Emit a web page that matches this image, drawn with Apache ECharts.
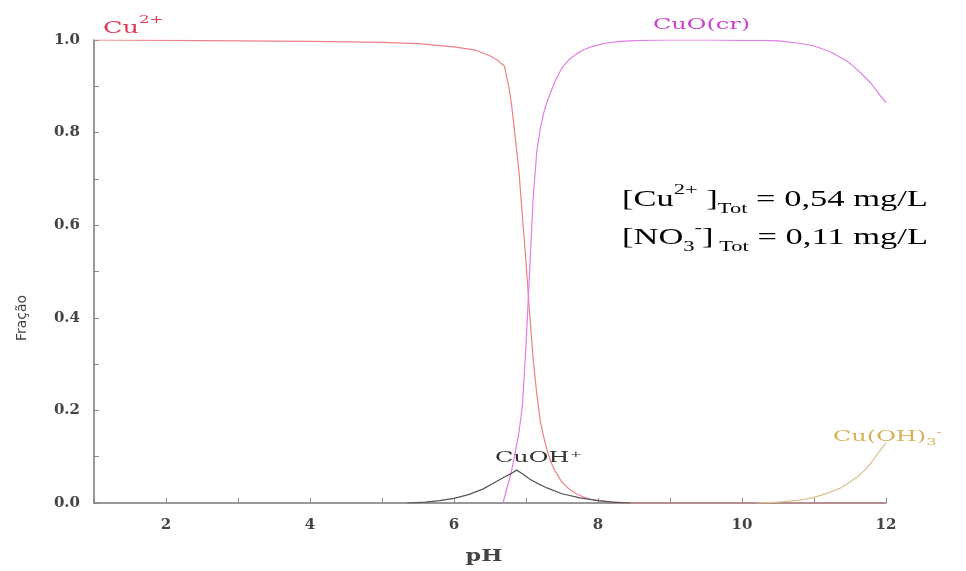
<!DOCTYPE html>
<html><head><meta charset="utf-8">
<script src="https://cdn.jsdelivr.net/npm/echarts@6/dist/echarts.min.js"></script>
<style>html,body{margin:0;padding:0;background:#fff}#c{width:966px;height:571px}</style>
</head><body><div id="c"></div>
<script>
// ---- data ----
const cu2_pH  = [1,2,3,4,5,5.5,6,6.3,6.5,6.6,6.65,6.7,6.72,6.76,6.8,6.85,6.9,6.95,7.0,7.05,7.1,7.15,7.2,7.25,7.3,7.35,7.4,7.5,7.6,7.7,7.8,7.9,8.0,8.15,8.3,8.6,9,10,11,12];
const cu2_val = [1.0,0.999,0.998,0.997,0.995,0.992,0.985,0.978,0.966,0.957,0.95,0.944,0.94,0.9,0.86,0.79,0.72,0.62,0.52,0.41,0.31,0.235,0.175,0.14,0.11,0.087,0.07,0.045,0.03,0.02,0.013,0.008,0.005,0.003,0.001,0,0,0,0,0];
const cuo_pH  = [6.68,6.75,6.8,6.85,6.9,6.95,7.0,7.05,7.1,7.15,7.2,7.25,7.3,7.4,7.5,7.6,7.7,7.8,7.9,8.1,8.3,8.6,9,9.5,10,10.3,10.5,10.8,11,11.15,11.26,11.35,11.45,11.55,11.64,11.72,11.8,11.92,12];
const cuo_val = [0,0.04,0.07,0.11,0.15,0.21,0.34,0.5,0.66,0.76,0.81,0.845,0.87,0.91,0.94,0.958,0.97,0.979,0.985,0.993,0.997,0.999,1.0,1.0,0.999,0.999,0.998,0.993,0.987,0.979,0.972,0.964,0.955,0.943,0.93,0.918,0.905,0.88,0.865];
const cuoh_pH  = [5.35,5.6,5.8,6.0,6.2,6.4,6.54,6.7,6.8,6.87,6.95,7.05,7.15,7.3,7.5,7.75,8.0,8.2,8.45];
const cuoh_val = [0,0.002,0.005,0.01,0.018,0.03,0.042,0.056,0.064,0.071,0.063,0.052,0.043,0.032,0.02,0.011,0.005,0.002,0];
const cuoh3_pH  = [10.2,10.5,10.8,11.0,11.2,11.35,11.45,11.6,11.7,11.8,11.9,12];
const cuoh3_val = [0,0.002,0.006,0.012,0.022,0.031,0.04,0.056,0.07,0.088,0.11,0.13];
const xTicks = [2,4,6,8,10,12];
const yTicks = [0.0,0.2,0.4,0.6,0.8,1.0];

const pairs = (xs, ys) => xs.map((x, i) => [x, ys[i]]);
const serif = "'DejaVu Serif', 'Liberation Serif', serif";
const times = "'Liberation Serif', 'Times New Roman', serif";
const SX = 1.6;

const chart = echarts.init(document.getElementById('c'), null, {renderer: 'canvas'});
const lineS = (name, xs, ys, color) => ({
  name, type: 'line', data: pairs(xs, ys), showSymbol: false, symbol: 'none',
  smooth: false, lineStyle: {color, width: 1.2}, z: 3, animation: false
});

chart.setOption({
  animation: false,
  grid: {left: 94, right: 80, top: 40, bottom: 68},
  xAxis: {
    type: 'value', min: 1, max: 12, interval: 1,
    axisLine: {onZero: false, lineStyle: {color: '#777', width: 1.5}},
    axisTick: {inside: true, length: 5, lineStyle: {color: '#888'}},
    splitLine: {show: false},
    axisLabel: {
      margin: 15, color: '#444', fontFamily: serif, fontSize: 15, fontWeight: 'bold',
      formatter: v => xTicks.indexOf(Math.round(v)) >= 0 && Math.abs(v - Math.round(v)) < 1e-6 ? String(Math.round(v)) : ''
    }
  },
  yAxis: {
    type: 'value', min: 0, max: 1, interval: 0.1,
    axisLine: {show: true, lineStyle: {color: '#777', width: 1.5}},
    axisTick: {show: true, inside: true, length: 5, lineStyle: {color: '#888'}},
    splitLine: {show: false},
    axisLabel: {
      margin: 14, color: '#444', fontFamily: serif, fontSize: 15, fontWeight: 'bold',
      formatter: v => {
        const r = Math.round(v * 10);
        const t = (r / 10).toFixed(1);
        return yTicks.some(y => y.toFixed(1) === t) ? t : '';
      }
    }
  },
  series: [
    lineS('Cu2+', cu2_pH, cu2_val, '#ee8088'),
    lineS('CuO(cr)', cuo_pH, cuo_val, '#e07ee6'),
    lineS('CuOH+', cuoh_pH, cuoh_val, '#555555'),
    lineS('Cu(OH)3-', cuoh3_pH, cuoh3_val, '#d8c28c')
  ],
  graphic: [
    {type: 'text', x: 103, y: 26, scaleX: 1.5, style: {
      text: '{b|Cu}{s|2+}', verticalAlign: 'middle', rich: {
        b: {fontFamily: serif, fontSize: 17, fill: '#e03a55', verticalAlign: 'bottom', lineHeight: 22},
        s: {fontFamily: serif, fontSize: 11, fill: '#e03a55', verticalAlign: 'top', lineHeight: 22}
      }}},
    {type: 'text', x: 653, y: 25, scaleX: SX, style: {
      text: 'CuO(cr)', fontFamily: serif, fontSize: 15, fill: '#cc3fcc', verticalAlign: 'middle'}},
    {type: 'text', x: 495, y: 458, scaleX: SX, style: {
      text: 'CuOH⁺', fontFamily: serif, fontSize: 15, fill: '#333', verticalAlign: 'middle'}},
    {type: 'text', x: 833, y: 437, scaleX: SX, style: {
      text: '{b|Cu(OH)}{s|3}{p|-}', verticalAlign: 'middle', rich: {
        b: {fontFamily: serif, fontSize: 15, fill: '#d4b25a', verticalAlign: 'middle', lineHeight: 20},
        s: {fontFamily: serif, fontSize: 10, fill: '#d4b25a', verticalAlign: 'bottom', lineHeight: 20},
        p: {fontFamily: serif, fontSize: 10, fill: '#d4b25a', verticalAlign: 'top', lineHeight: 20}
      }}},
    {type: 'text', x: 622, y: 200, scaleX: 1.5, style: {
      text: '{m|[Cu}{sup|2+}{m| ]}{sub|Tot}{m| = 0,54 mg/L}', verticalAlign: 'middle', rich: {
        m: {fontFamily: times, fontSize: 23, fill: '#000', verticalAlign: 'middle', lineHeight: 34},
        sup: {fontFamily: times, fontSize: 15, fill: '#000', verticalAlign: 'top', lineHeight: 34},
        sub: {fontFamily: times, fontSize: 15, fill: '#000', verticalAlign: 'bottom', lineHeight: 34}
      }}},
    {type: 'text', x: 622, y: 238, scaleX: 1.5, style: {
      text: '{m|[NO}{sub|3}{sup|-}{m|]}{sub| Tot}{m| = 0,11 mg/L}', verticalAlign: 'middle', rich: {
        m: {fontFamily: times, fontSize: 23, fill: '#000', verticalAlign: 'middle', lineHeight: 34},
        sup: {fontFamily: times, fontSize: 15, fill: '#000', verticalAlign: 'top', lineHeight: 34},
        sub: {fontFamily: times, fontSize: 15, fill: '#000', verticalAlign: 'bottom', lineHeight: 34}
      }}},
    {type: 'text', x: 484, y: 557, scaleX: 1.4, style: {
      text: 'pH', fontFamily: serif, fontSize: 16, fontWeight: 'bold', fill: '#444', align: 'center', verticalAlign: 'middle'}},
    {type: 'text', x: 22, y: 318, rotation: Math.PI / 2, style: {
      text: 'Fração', fontFamily: "'DejaVu Sans', sans-serif", fontSize: 14, fill: '#444',
      align: 'center', verticalAlign: 'middle'}}
  ]
});
</script>
</body></html>
